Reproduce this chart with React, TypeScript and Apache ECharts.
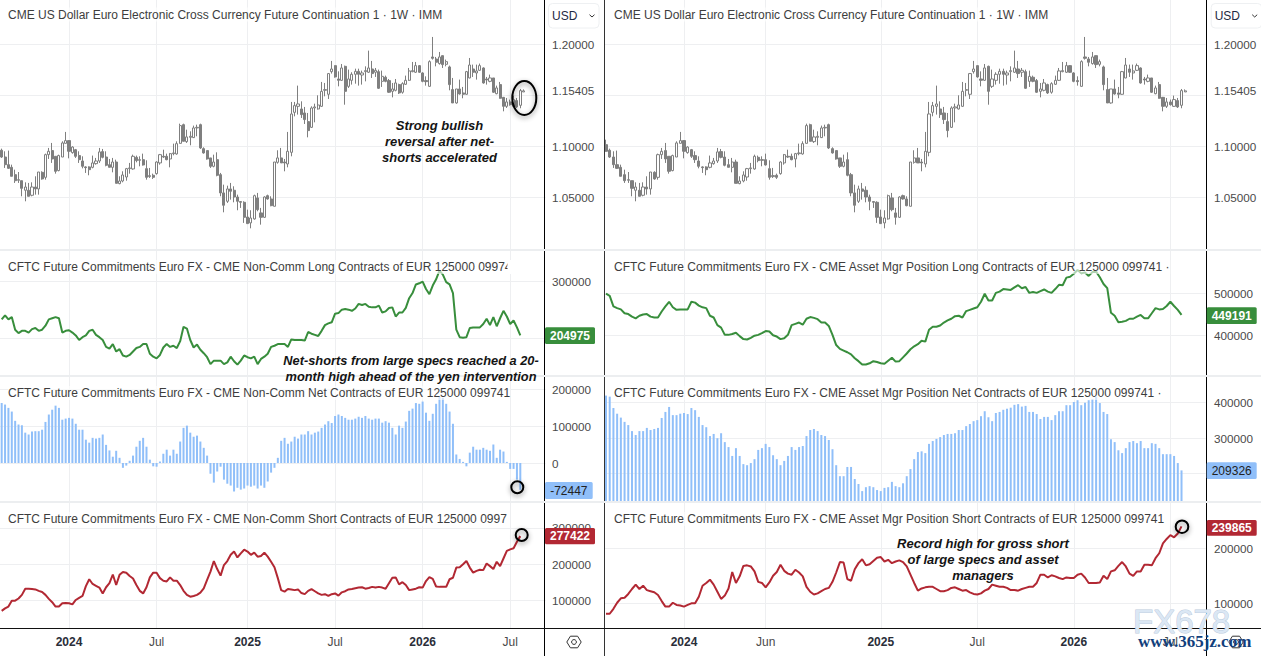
import React, { useEffect, useRef } from "react";
import * as echarts from "echarts";

// Weekly EUR future, [open, close, low, high] in units of 0.0001
const euroCandles: number[][] = [
[11013,10948,10948,11062],[10958,10892,10883,10974],[10892,10817,10785,10948],[10817,10781,10775,10955],[10791,10703,10703,10817],
[10719,10660,10638,10768],[10664,10670,10638,10745],[10660,10585,10507,10660],[10566,10598,10458,10644],[10566,10507,10507,10638],
[10517,10598,10507,10644],[10598,10579,10523,10703],[10579,10745,10523,10745],[10742,10677,10670,10752],[10693,10915,10670,10925],
[10915,10948,10873,10981],[10955,10873,10834,11030],[10899,10752,10729,10899],[10759,10906,10752,10915],[10892,11030,10892,11046],
[11026,11053,11026,11138],[11053,10948,10879,11053],[10935,10990,10925,10997],[10964,10899,10883,10971],[10906,10866,10834,10948],
[10853,10801,10781,10899],[10795,10788,10736,10801],[10795,10768,10713,10801],[10791,10834,10781,10906],[10827,10853,10817,10883],
[10853,10942,10834,10981],[10945,10889,10879,10971],[10892,10811,10801,10948],[10817,10791,10791,10873],[10791,10843,10742,10883],
[10843,10634,10634,10866],[10631,10657,10625,10703],[10657,10716,10644,10752],[10696,10778,10660,10785],[10778,10785,10729,10834],
[10775,10899,10768,10915],[10889,10857,10840,10906],[10866,10860,10801,10899],[10866,10814,10808,10925],[10778,10693,10670,10860],
[10700,10710,10687,10785],[10713,10693,10677,10729],[10729,10843,10719,10850],[10834,10915,10817,10922],[10899,10892,10883,10964],
[10899,10866,10860,10925],[10873,10925,10791,10932],[10925,10932,10909,11023],[10922,11023,10915,11046],[11026,11200,11023,11219],
[11209,11046,11046,11219],[11043,11089,11030,11160],[11085,11095,11007,11144],[11082,11177,11079,11200],[11177,11183,11095,11209],
[11209,10981,10971,11219],[10974,10932,10925,10987],[10955,10873,10866,10955],[10883,10801,10785,10883],[10801,10843,10791,10915],
[10866,10713,10703,10938],[10719,10540,10507,10736],[10540,10419,10350,10621],[10458,10579,10442,10611],[10579,10556,10474,10638],
[10566,10500,10448,10605],[10500,10458,10370,10523],[10455,10448,10393,10458],[10448,10301,10246,10458],[10304,10239,10239,10376],
[10246,10294,10193,10370],[10285,10513,10278,10523],[10491,10376,10360,10540],[10344,10301,10229,10393],[10301,10500,10294,10507],
[10513,10481,10474,10523],[10481,10415,10409,10507],[10409,10843,10409,10843],[10840,10883,10827,10958],[10883,10834,10834,10981],
[10843,10834,10752,10873],[10824,10948,10791,11138],[10938,11314,10899,11432],[11330,11396,11291,11432],[11389,11412,11308,11592],
[11363,11308,11275,11438],[11324,11259,11216,11383],[11239,11151,11085,11324],[11183,11373,11177,11389],[11373,11383,11232,11415],
[11363,11402,11357,11497],[11389,11536,11383,11628],[11546,11553,11487,11618],[11507,11710,11461,11716],[11729,11755,11710,11834],
[11788,11677,11670,11791],[11657,11644,11585,11732],[11644,11765,11638,11804],[11781,11536,11405,11788],[11585,11657,11569,11749],
[11644,11703,11602,11723],[11703,11732,11611,11758],[11732,11703,11592,11758],[11696,11716,11602,11739],[11729,11739,11634,11781],
[11723,11765,11716,11935],[11755,11710,11667,11834],[11723,11742,11677,11765],[11729,11566,11559,11749],[11634,11683,11579,11739],
[11674,11634,11625,11690],[11641,11527,11520,11657],[11536,11559,11477,11618],[11546,11618,11536,11657],[11602,11520,11510,11611],
[11527,11611,11513,11625],[11605,11644,11598,11690],[11644,11736,11638,11765],[11729,11739,11723,11824],[11723,11788,11716,11824],
[11788,11723,11716,11794],[11716,11634,11625,11723],[11641,11631,11592,11683],[11585,11827,11582,11840],[11873,11860,11847,12069],
[11853,11821,11781,11873],[11808,11873,11798,11922],[11886,11798,11765,11886],[11801,11827,11781,11847],[11775,11602,11546,11788],
[11553,11422,11422,11667],[11422,11559,11415,11559],[11559,11510,11504,11651],[11520,11507,11468,11579],[11507,11729,11504,11736],
[11667,11794,11664,11863],[11755,11723,11677,11798],[11716,11736,11651,11798],[11742,11788,11736,11808],[11765,11618,11611,11771],
[11657,11647,11602,11677],[11634,11667,11625,11700],[11667,11527,11520,11667],[11513,11569,11507,11592],[11602,11468,11464,11628],
[11477,11389,11340,11481],[11389,11432,11373,11471],[11432,11405,11396,11455],[11389,11455,11383,11494],[11445,11383,11373,11471],
[11399,11543,11370,11559],[11530,11540.5,11530,11555],
];

// Positions in thousands of contracts, one per week
const nonCommLong = [
233,240,233,237,215,209,213,213,210,216,218,213,215,222,233,235,237,235,210,213,214,210,205,197,202,205,213,215,206,202,
197,185,182,190,177,181,170,168,171,177,183,185,190,190,173,168,165,171,184,190,185,187,183,195,220,217,197,184,189,180,
174,167,155,161,161,161,155,158,168,160,154,161,170,167,165,168,155,164,168,173,185,187,190,190,190,185,198,197,197,
197,196,211,208,206,204,213,223,226,228,243,244,250,251,250,248,252,260,258,260,255,254,254,257,245,247,253,254,238,245,
245,253,270,279,294,296,299,286,277,292,303,318,311,298,294,279,215,202,201,202,218,219,219,219,225,234,223,237,221,235,
248,238,225,231,219,204.975,
];
const nonCommNet = [
162,158,149,139,114,104,102,82,77,85,86,86,90,111,131,144,155,149,117,120,122,120,106,90,90,63,55,68,66,68,
77,49,34,17,33,14,-13,-7,6,20,44,60,68,44,9,-9,-10,4,25,36,20,36,25,58,95,101,82,71,74,58,
41,20,-29,-53,-23,-10,-45,-56,-61,-77,-67,-72,-69,-61,-64,-61,-69,-61,-67,-50,-26,-13,14,60,68,52,58,71,66,
77,77,86,77,82,85,95,104,113,108,127,131,127,122,117,117,120,125,122,127,120,117,120,120,109,113,109,95,77,101,
95,112,141,147,162,160,166,136,114,133,160,180,176,160,139,106,23,11,3,-9,28,44,36,36,41,36,33,50,14,36,
31,3,-16,-16,-45,-72.447,
];
const nonCommShort = [
72,79,84,100,100,106,116,133,133,132,131,127,124,116,105,96,84,84,93,94,93,90,102,108,113,140,159,146,141,136,
120,137,148,172,143,171,179,177,168,161,143,127,120,137,164,177,177,162,155,153,164,155,155,143,127,116,111,113,116,122,
134,157,180,209,187,169,198,209,226,235,219,230,240,235,226,232,221,223,232,221,207,192,162,129,125,132,131,129,131,
121,118,127,132,126,120,116,118,113,118,120,114,123,126,131,132,134,136,137,133,135,138,136,138,136,133,148,163,164,145,
151,143,129,131,133,137,136,154,165,160,139,138,138,138,159,163,191,192,200,209,191,177,182,185,184,202,195,187,207,195,
216,237,241,244,262,277.422,
];
const assetMgrLong = [
499,494,469,465,462,453,451,445,441,447,450,451,445,443,443,457,469,480,467,461,462,462,462,480,478,471,467,465,447,443,
425,419,402,402,404,407,399,392,391,395,400,402,406,411,410,401,398,392,394,402,425,428,431,426,440,444,442,439,431,431,
423,402,378,369,365,361,356,347,340,332,332,335,340,338,335,334,341,348,339,340,349,358,368,375,380,388,
386,414,421,421,424,431,436,440,446,447,443,458,461,464,467,480,499,483,483,501,504,510,509,508,514,519,512,515,501,503,
501,505,509,504,501,510,520,519,537,539,546,555,547,549,541,550,551,538,522,512,454,447,432,433,435,440,440,445,449,441,
441,453,465,462,463,470,480,470,461,449.191,
];
const assetMgrNet = [
420,417,385,369,358,346,337,320,309,320,320,329,323,326,329,357,374,388,365,365,369,371,368,385,379,360,337,331,306,312,
300,314,289,275,250,272,250,227,224,230,241,267,272,284,275,252,241,224,236,250,275,267,275,278,306,323,326,320,309,306,
295,269,224,193,193,219,219,185,171,151,162,165,162,154,151,160,162,177,165,162,173,193,213,241,261,
263,258,284,292,298,303,309,312,312,314,323,323,334,340,348,351,362,376,359,348,371,374,380,383,386,394,396,389,391,374,
374,368,354,360,360,351,365,376,376,393,393,402,407,393,400,407,410,417,399,374,368,297,289,266,258,272,289,292,286,292,
272,272,286,284,272,255,255,255,250,230,209.326,
];
const assetMgrShort = [
81,81,90,101,109,110,117,126,134,126,132,124,122,120,115,104,94,94,101,97,96,94,97,100,100,112,132,137,143,134,
121,108,114,127,157,137,149,168,169,167,158,139,137,129,138,150,157,170,159,154,152,161,156,149,130,121,116,118,122,126,
128,139,156,175,174,144,141,162,173,180,169,171,177,183,184,176,179,173,176,178,175,167,152,137,123,
127,129,130,130,126,122,122,124,128,129,126,123,124,120,117,116,118,123,126,134,132,130,130,128,124,124,123,126,128,130,
130,137,152,152,147,151,149,146,144,147,146,146,152,154,147,137,137,137,138,150,144,158,160,168,175,167,154,150,158,158,
170,170,169,182,191,209,217,224,220,227,239.865,
];

const leftTickWeeks = [21, 47, 74, 100, 126, 152];
const leftTickLabels = ["2024", "Jul", "2025", "Jul", "2026", "Jul"];
const rightTickWeeks = [21, 43, 74, 100, 126, 152];
const rightTickLabels = ["2024", "Jun", "2025", "Jul", "2026", "Jul"];

const priceTitle = "CME US Dollar Euro Electronic Cross Currency Future Continuation 1 · 1W · IMM";
const cftc = "CFTC Future Commitments Euro FX - CME ";
const leftTitles = [
  priceTitle,
  cftc + "Non-Comm Long Contracts of EUR 125000 09974",
  cftc + "Non-Comm Net Contracts of EUR 125000 099741",
  cftc + "Non-Comm Short Contracts of EUR 125000 0997",
];
const rightTitles = [
  priceTitle,
  cftc + "Asset Mgr Position Long Contracts of EUR 125000 099741 ·",
  cftc + "Asset Mgr Position Net Contracts of EUR 125000 099741 ·",
  cftc + "Asset Mgr Position Short Contracts of EUR 125000 099741",
];

const FONT = "'Liberation Sans', Arial, sans-serif";
const GREEN = "#388e3c";
const BLUE = "#90bff9";
const RED = "#b22833";
const GRID = "#eeeff1";
const CANDLE = "#7f7f7f";
const LABEL = "#4a4a4a";

const paneTop = [0, 250, 376, 502];
const paneH = [250, 126, 126, 126];

const yConf = [
  { min: 0.99804, max: 1.24314, lines: [1.05, 1.1, 1.15, 1.2], labels: [1.05, 1.1, 1.15405, 1.2], price: true },
  { min: 134225, max: 354095, lines: [200000, 300000], labels: [200000, 300000] },
  { min: -105400, max: 235135, lines: [0, 100000, 200000], labels: [0, 100000, 200000] },
  { min: 25014, max: 371138, lines: [100000, 200000, 300000], labels: [100000, 200000, 300000] },
  { min: 0.99804, max: 1.24314, lines: [1.05, 1.1, 1.15, 1.2], labels: [1.05, 1.1, 1.15405, 1.2], price: true },
  { min: 304990, max: 602100, lines: [400000, 500000], labels: [400000, 500000] },
  { min: 120280, max: 475200, lines: [200000, 300000, 400000], labels: [200000, 300000, 400000] },
  { min: 55095, max: 284170, lines: [100000, 200000], labels: [100000, 200000] },
];

const BARS = 162;
const LEFT_X = -1.19;
const LEFT_W = 162 * 3.375;
const RIGHT_X = 604.14;
const RIGHT_W = 162 * 3.713;

function buildOption() {
  const grid: any[] = [];
  const xAxis: any[] = [];
  const yAxis: any[] = [];
  const series: any[] = [];
  const prices = euroCandles.map((q) => q.map((v) => v / 10000));
  const k = (a: number[]) => a.map((v) => v * 1000);

  for (let side = 0; side < 2; side++) {
    const left = side === 0;
    const first = left ? 1 : 0;
    const ticks = (left ? leftTickWeeks : rightTickWeeks).map((w) => w - first);
    const names = left ? leftTickLabels : rightTickLabels;
    const cats = Array.from({ length: BARS }, (_, i) => String(i + first));
    for (let p = 0; p < 4; p++) {
      const idx = side * 4 + p;
      grid.push({
        left: left ? LEFT_X : RIGHT_X,
        width: left ? LEFT_W : RIGHT_W,
        top: paneTop[p],
        height: paneH[p],
      });
      const isTick = (i: number) => ticks.includes(i);
      xAxis.push({
        type: "category",
        gridIndex: idx,
        data: cats,
        boundaryGap: true,
        axisLine: { show: false },
        axisTick: { show: false, alignWithLabel: true, interval: isTick },
        splitLine: { show: true, alignWithLabel: true, interval: isTick, lineStyle: { color: GRID, width: 1 } },
        axisLabel:
          p === 3
            ? {
                show: true,
                interval: isTick,
                margin: 8,
                hideOverlap: false,
                formatter: (_: string, i: number) => {
                  const n = names[ticks.indexOf(i)] ?? "";
                  return /^\d/.test(n) ? `{y|${n}}` : `{m|${n}}`;
                },
                rich: {
                  y: { fontFamily: FONT, fontSize: 12, fontWeight: "bold", color: "#2a2e39" },
                  m: { fontFamily: FONT, fontSize: 12, color: LABEL },
                },
              }
            : { show: false },
      });
      const c: any = yConf[idx];
      yAxis.push({
        type: "value",
        gridIndex: idx,
        position: "right",
        min: c.min,
        max: c.max,
        axisLine: { show: false },
        axisTick: { show: false, customValues: c.lines },
        splitLine: { show: true, customValues: c.lines, lineStyle: { color: GRID, width: 1 } },
        axisLabel: {
          show: true,
          customValues: c.labels,
          margin: left ? 6.4 : 8.35,
          color: LABEL,
          fontFamily: FONT,
          fontSize: 11.7,
          padding: [0, 0, 2, 0],
          formatter: (v: number) => (c.price ? v.toFixed(5) : String(Math.round(v))),
        },
      });
    }
    const sl = (a: any[]) => (left ? a.slice(1) : a);
    const base = side * 4;
    series.push({
      type: "candlestick",
      xAxisIndex: base,
      yAxisIndex: base,
      data: sl(prices),
      barWidth: left ? 2.6 : 2.8,
      itemStyle: { color: "#ffffff", color0: CANDLE, borderColor: CANDLE, borderColor0: CANDLE, borderWidth: 1 },
    });
    series.push({
      type: "line",
      xAxisIndex: base + 1,
      yAxisIndex: base + 1,
      data: k(left ? nonCommLong : assetMgrLong),
      showSymbol: false,
      lineStyle: { color: GREEN, width: 2 },
    });
    series.push({
      type: "bar",
      xAxisIndex: base + 2,
      yAxisIndex: base + 2,
      data: k(left ? nonCommNet : assetMgrNet),
      barWidth: 2,
      itemStyle: { color: BLUE },
    });
    series.push({
      type: "line",
      xAxisIndex: base + 3,
      yAxisIndex: base + 3,
      data: k(left ? nonCommShort : assetMgrShort),
      showSymbol: false,
      lineStyle: { color: RED, width: 2 },
    });
  }

  const Z = 100;
  const g: any[] = [];
  const vline = (x: number, c: string, y2 = 656) =>
    g.push({ type: "line", z: Z + 2, shape: { x1: x, y1: 0, x2: x, y2 }, style: { stroke: c, lineWidth: 1 } });
  const hline = (y: number, c: string, w: number) =>
    g.push({ type: "line", z: Z + 3, shape: { x1: 0, y1: y, x2: 1261, y2: y }, style: { stroke: c, lineWidth: w } });
  const titleRow = (t: string, x: number, y: number) =>
    g.push({
      type: "text",
      z: Z,
      x,
      y,
      style: {
        text: t,
        fontFamily: FONT,
        fontSize: 12,
        fill: "#3d3d3d",
        verticalAlign: "middle",
        backgroundColor: "rgba(255,255,255,0.6)",
        padding: [1, 0, 1, 0],
      },
    });
  const titleY = [14.5, 267, 393, 519];
  leftTitles.forEach((t, i) => titleRow(t, 8, titleY[i]));
  rightTitles.forEach((t, i) => titleRow(t, 614, titleY[i]));
  // the legend of the second left pane is cut off part-way through its last digit
  g.push({ type: "rect", z: Z + 1, shape: { x: 507.5, y: 260, width: 6, height: 14 }, style: { fill: "#fff" } });

  vline(544.5, "#000");
  vline(604.5, "#333");
  vline(1206.5, "#000");
  hline(250, "#eceef0", 2);
  hline(376, "#eceef0", 2);
  hline(502, "#eceef0", 2);
  hline(628.5, "#111", 1);

  const tag = (x: number, w: number, y: number, h: number, bg: string, text: string, fill: string) => {
    g.push({ type: "rect", z: Z + 4, shape: { x, y, width: w, height: h, r: 1.5 }, style: { fill: bg } });
    g.push({
      type: "text",
      z: Z + 5,
      x: x + w / 2,
      y: y + h / 2,
      style: { text, fontFamily: FONT, fontSize: 12, fontWeight: fill === "#fff" ? "bold" : "normal", fill, align: "center", verticalAlign: "middle" },
    });
  };
  tag(545, 50, 327.3, 16.7, GREEN, "204975", "#fff");
  tag(545, 47.7, 482, 17, BLUE, "-72447", "#222");
  tag(545, 50, 528, 16.3, RED, "277422", "#fff");
  tag(1206.7, 50, 307.3, 16.7, GREEN, "449191", "#fff");
  tag(1206.7, 50, 462.3, 16.7, BLUE, "209326", "#222");
  tag(1206.7, 50, 520, 15.7, RED, "239865", "#fff");

  const usd = (x: number) => {
    g.push({ type: "rect", z: Z + 4, shape: { x: x + 0.5, y: 3.5, width: 50.5, height: 24.5, r: 4 }, style: { fill: "#fff", stroke: "#eef0f2", lineWidth: 1 } });
    g.push({ type: "text", z: Z + 5, x: x + 4, y: 15.7, style: { text: "USD", fontFamily: FONT, fontSize: 12, fill: "#1f2a44", verticalAlign: "middle" } });
    g.push({ type: "polyline", z: Z + 5, shape: { points: [[x + 41.5, 14.7], [x + 44, 17], [x + 46.5, 14.7]] }, style: { stroke: "#333", lineWidth: 1, fill: "none" } });
  };
  usd(548);
  usd(1210.7);

  const gear = (cx: number, cy: number) => {
    g.push({
      type: "polygon",
      z: Z + 4,
      shape: { points: [[cx - 7.2, cy], [cx - 3.6, cy - 5.8], [cx + 3.6, cy - 5.8], [cx + 7.2, cy], [cx + 3.6, cy + 5.8], [cx - 3.6, cy + 5.8]] },
      style: { fill: "#fff", stroke: "#333", lineWidth: 1 },
    });
    g.push({ type: "circle", z: Z + 5, shape: { cx, cy, r: 2.4 }, style: { fill: "#fff", stroke: "#333", lineWidth: 1 } });
  };
  gear(574, 642);
  gear(1236, 642);

  const note = (text: string, x: number, y: number, size = 13, lh = 16) =>
    g.push({
      type: "text",
      z: Z + 6,
      x,
      y,
      style: {
        text,
        fontFamily: FONT,
        fontSize: size,
        fontWeight: "bold",
        fontStyle: "italic",
        fill: "#141414",
        align: "center",
        verticalAlign: "top",
        lineHeight: lh,
      },
    });
  note("Strong bullish\nreversal after net-\nshorts accelerated", 439.5, 117);
  note("Net-shorts from large specs reached a 20-\nmonth high ahead of the yen intervention", 411, 352, 12.8);
  note("Record high for gross short\nof large specs and asset\nmanagers", 983, 535);

  const ring = (cx: number, cy: number, rx: number, ry: number) =>
    g.push({
      type: "ellipse",
      z: Z + 7,
      shape: { cx, cy, rx, ry },
      style: { fill: "none", stroke: "#000", lineWidth: 2, shadowBlur: 5, shadowColor: "rgba(0,0,0,0.45)", shadowOffsetY: 2 },
    });
  ring(524.3, 98, 12, 17);
  ring(517.3, 487.3, 6, 6);
  ring(521.7, 535, 6, 6);
  ring(1182, 526.7, 6.3, 6.3);

  g.push({
    type: "text",
    z: Z + 8,
    x: 1133,
    y: 621,
    style: {
      text: "FX678",
      fontFamily: FONT,
      fontSize: 33,
      fill: "#dbe7f4",
      stroke: "#bccbdd",
      lineWidth: 1,
      verticalAlign: "middle",
    },
  });
  g.push({
    type: "text",
    z: Z + 8,
    x: 1138,
    y: 641,
    style: {
      text: "www.365jz.com",
      fontFamily: "'Liberation Serif', serif",
      fontSize: 17,
      fontWeight: "bold",
      fill: "#123f7c",
      verticalAlign: "middle",
    },
  });

  return { animation: false, backgroundColor: "#fff", grid, xAxis, yAxis, series, graphic: { elements: g } };
}

export default function App() {
  const ref = useRef<HTMLDivElement>(null);
  useEffect(() => {
    document.body.style.margin = "0";
    const chart = echarts.init(ref.current as HTMLDivElement, undefined, { renderer: "svg" });
    chart.setOption(buildOption());
    return () => chart.dispose();
  }, []);
  return <div ref={ref} style={{ width: 1261, height: 656 }} />;
}
